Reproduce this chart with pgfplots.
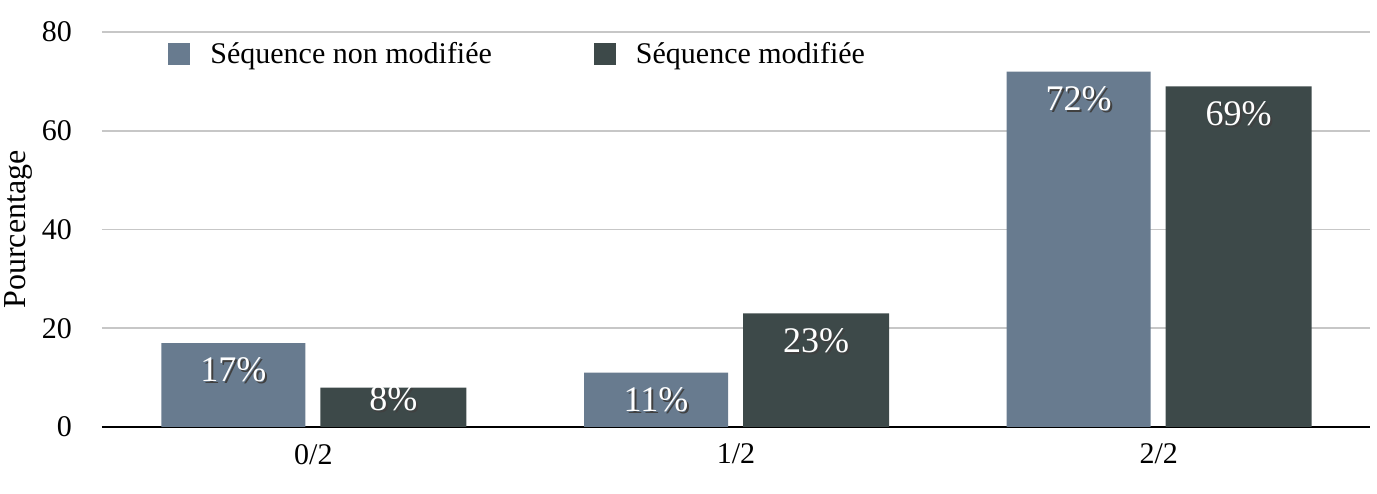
\documentclass[border=0pt]{standalone}
\usepackage{pgfplots}
\pgfplotsset{compat=1.18}
\usepackage{fontspec}
\setmainfont{Liberation Serif}
\definecolor{barlight}{HTML}{687B8F}
\definecolor{bardark}{HTML}{3D4949}
\pgfplotsset{sqlegend/.style={legend image code/.code={\fill[##1] (0pt,-5.5pt) rectangle (11pt,5.5pt);}}}
\newcommand{\shadowed}[1]{\rlap{\hspace{1pt}\raisebox{-1pt}{\textcolor{black!75}{#1}}}\textcolor{white}{#1}}
\begin{document}
\begin{tikzpicture}
\begin{axis}[name=ax, scale only axis, width=634pt, height=197.5pt,
  ymin=0, ymax=80, xmin=-0.5, xmax=2.5,
  ytick={0,20,40,60,80}, xtick={0,1,2}, xticklabels={0/2,1/2,2/2},
  ymajorgrids, grid style={black!22, line width=0.8pt},
  axis x line=bottom, axis y line=left,
  y axis line style={draw=none},
  x axis line style={line width=1.3pt,-},
  major tick length=0pt,
  /pgf/number format/assume math mode=true,
  tick label style={font=\fontsize{15}{17}\selectfont},
  xticklabel style={yshift=-5pt},
  yticklabel style={xshift=-11.5pt},
  ylabel={Pourcentage},
  ylabel style={font=\fontsize{16}{18}\selectfont, at={(rel axis cs:0,0.5)}, anchor=center, yshift=42pt},
  legend columns=2,
  legend style={draw=none, fill=none, at={(rel axis cs:0,1)}, anchor=north west, xshift=30pt, yshift=-1pt,
    font=\fontsize{15}{17}\selectfont, /tikz/every even column/.append style={column sep=49pt},
    nodes={inner sep=2pt}},
  nodes near coords={\shadowed{\pgfmathprintnumber{\pgfplotspointmeta}\%}},
  every node near coord/.append style={anchor=center, yshift=-14pt, font=\fontsize{18}{20}\selectfont},
]
\addplot[ybar, bar width=72pt, bar shift=-40pt, fill=barlight, draw=none, sqlegend,
  every node near coord/.append style={xshift=-40pt}]
  coordinates {(0,17) (1,11) (2,72)};
\addlegendentry{\hspace{8pt}Séquence non modifiée}
\addplot[ybar, bar width=73pt, bar shift=40pt, fill=bardark, draw=none, sqlegend,
  every node near coord/.append style={xshift=40pt},
  coordinate style/.condition={y<10}{yshift=8pt}]
  coordinates {(0,8) (1,23) (2,69)};
\addlegendentry{\hspace{8pt}Séquence modifiée}
\end{axis}
\pgfresetboundingbox
\path ([xshift=-51pt,yshift=-33pt]ax.south west) rectangle ([xshift=3.5pt,yshift=16pt]ax.north east);
\end{tikzpicture}
\end{document}
